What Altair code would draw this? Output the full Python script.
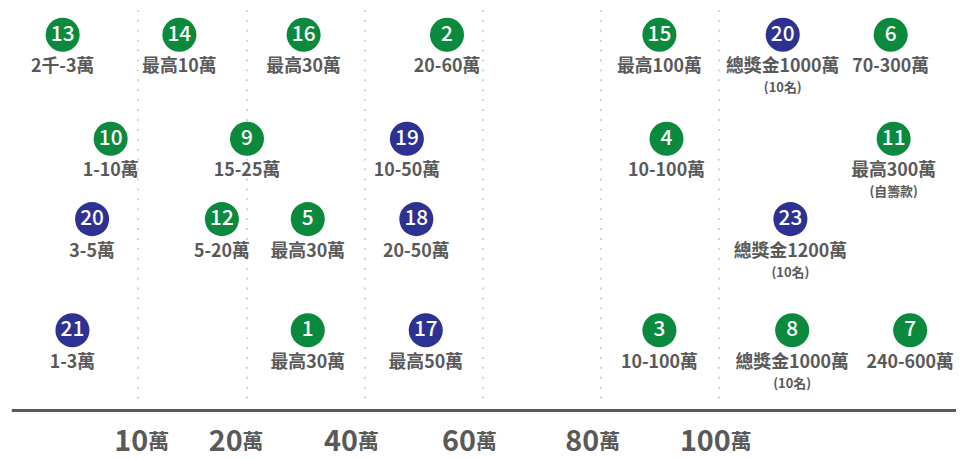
import altair as alt
import pandas as pd

# ---- data (x in 萬 on a piecewise scale, rows top to bottom) ----
ids = ["13", "14", "16", "2", "15", "20", "6",
       "10", "9", "19", "4", "11",
       "20", "12", "5", "18", "23",
       "21", "1", "17", "3", "8", "7"]
x_vals = [3.1, 13.8, 29.6, 53.9, 89.9, 110.8, 129.1,
          7.5, 20.0, 47.1, 91.1, 129.6,
          5.8, 17.7, 30.3, 48.7, 112.1,
          4.0, 30.3, 50.3, 89.9, 112.4, 132.4]
rows = [1, 1, 1, 1, 1, 1, 1,
        2, 2, 2, 2, 2,
        3, 3, 3, 3, 3,
        4, 4, 4, 4, 4, 4]
groups = ["g", "g", "g", "g", "g", "n", "g",
          "g", "g", "n", "g", "g",
          "n", "g", "g", "n", "n",
          "n", "g", "n", "g", "g", "g"]
labels = ["2千-3萬", "最高10萬", "最高30萬", "20-60萬", "最高100萬", "總獎金1000萬", "70-300萬",
          "1-10萬", "15-25萬", "10-50萬", "10-100萬", "最高300萬",
          "3-5萬", "5-20萬", "最高30萬", "20-50萬", "總獎金1200萬",
          "1-3萬", "最高30萬", "最高50萬", "10-100萬", "總獎金1000萬", "240-600萬"]
sublabels = ["", "", "", "", "", "(10名)", "",
             "", "", "", "", "(自籌款)",
             "", "", "", "", "(10名)",
             "", "", "", "", "(10名)", ""]
row_levels = {1: 25, 2: 130, 3: 211, 4: 323}

grid_vals = [10, 20, 40, 60, 80, 100]
tick_pos = [10.95, 19.6, 38.8, 58.8, 79.7, 102.0]
tick_nums = ["10", "20", "40", "60", "80", "100"]
tick_unit = ["萬"] * 6

df = pd.DataFrame({
    "id": ids, "x": x_vals, "row": rows, "grp": groups,
    "label": labels, "sub": sublabels,
})
df["ry"] = df["row"].map(row_levels)
df_sub = df[df["sub"] != ""]
grid_df = pd.DataFrame({"g": grid_vals})
tick_df = pd.DataFrame({"p": tick_pos, "num": tick_nums, "unit": tick_unit})

FONT = "Noto Sans CJK TC"
GRAY = "#595959"
W, H = 956, 451

xs = alt.Scale(domain=[0, 10, 20, 40, 60, 80, 100, 120, 140],
               range=[21, 131, 241, 360, 479, 598, 717, 836, 955])
ys = alt.Scale(domain=[0, H], range=[0, H])

X = alt.X("x:Q", scale=xs, axis=None)
Y = alt.Y("ry:Q", scale=ys, axis=None)

grid = alt.Chart(grid_df).mark_rule(
    color="#c4c4c4", strokeWidth=1.5, strokeDash=[2, 8]
).encode(
    x=alt.X("g:Q", scale=xs, axis=None),
    y=alt.value(0), y2=alt.value(392),
)

base_line = alt.Chart(grid_df).mark_rule(color=GRAY, strokeWidth=3).encode(
    x=alt.value(4), x2=alt.value(W), y=alt.value(404)
)

circles = alt.Chart(df).mark_circle(size=1180, opacity=1).encode(
    x=X, y=Y,
    color=alt.Color("grp:N", scale=alt.Scale(domain=["g", "n"],
                                             range=["#0b8a3d", "#2d3192"]),
                    legend=None),
)

nums = alt.Chart(df).mark_text(
    color="white", fontSize=21, font=FONT, fontWeight=500, baseline="middle", dy=0
).encode(x=X, y=Y, text="id:N")

labs = alt.Chart(df).mark_text(
    color=GRAY, fontSize=18, font=FONT, fontWeight="bold", baseline="middle", dy=33
).encode(x=X, y=Y, text="label:N")

subs = alt.Chart(df_sub).mark_text(
    color=GRAY, fontSize=13, font=FONT, fontWeight="bold", baseline="middle", dy=54
).encode(x=X, y=Y, text="sub:N")

tick_num = alt.Chart(tick_df).mark_text(
    color=GRAY, fontSize=29, font=FONT, fontWeight="bold", align="right",
    baseline="alphabetic"
).encode(x=alt.X("p:Q", scale=xs, axis=None), y=alt.value(445), text="num:N")

tick_u = alt.Chart(tick_df).mark_text(
    color=GRAY, fontSize=21, font=FONT, fontWeight="bold", align="left",
    baseline="alphabetic"
).encode(x=alt.X("p:Q", scale=xs, axis=None), y=alt.value(443), text="unit:N")

chart = alt.layer(
    grid, base_line, circles, nums, labs, subs, tick_num, tick_u
).properties(
    width=W, height=H, padding=0, autosize=alt.AutoSizeParams(type="none")
).configure_view(stroke=None)

chart.save("out.html", embed_options={"renderer": "svg", "actions": False})
